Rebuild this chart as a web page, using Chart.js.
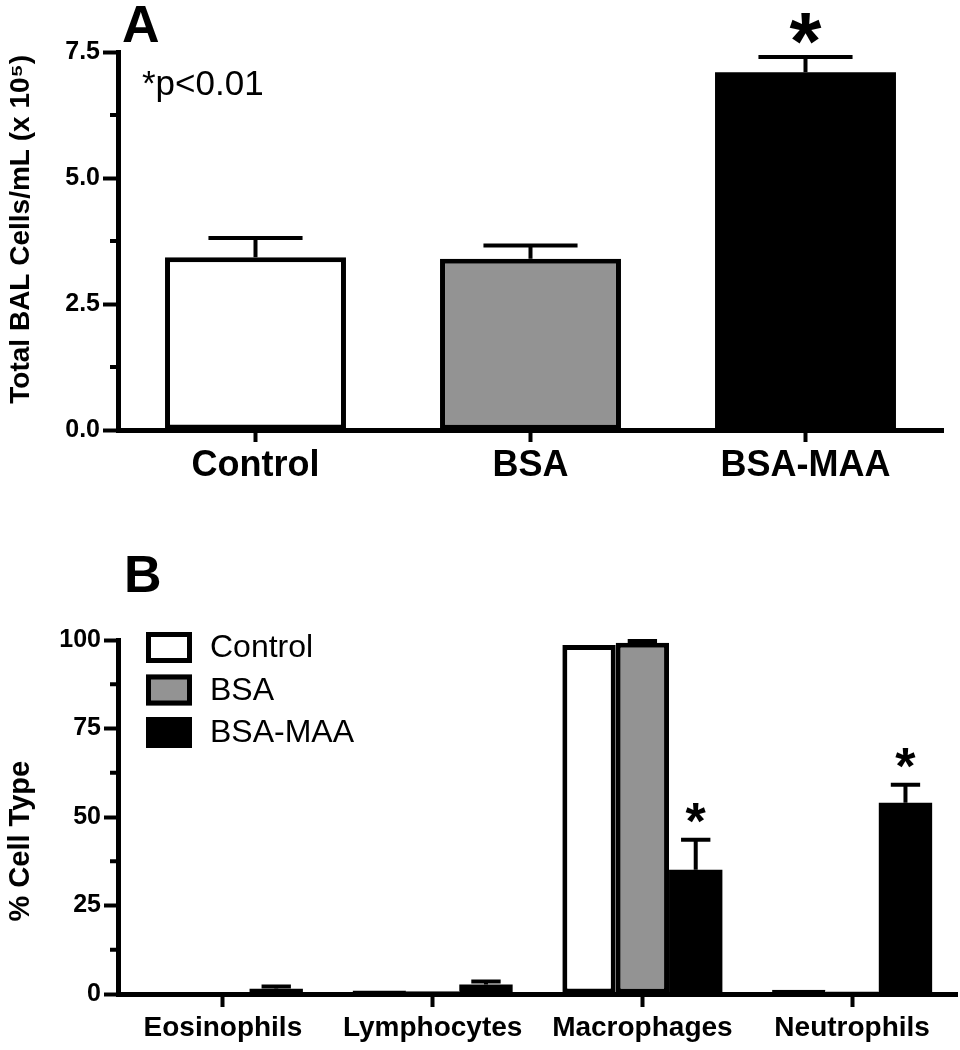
<!DOCTYPE html>
<html>
<head>
<meta charset="utf-8">
<script src="https://cdn.jsdelivr.net/npm/chart.js@4.4.1/dist/chart.umd.min.js"></script>
<style>
  html, body { margin: 0; padding: 0; background: #fff; }
  #wrap { position: relative; width: 960px; height: 1050px; }
  canvas { position: absolute; left: 0; }
  #chartA { top: 0; }
  #chartB { top: 540px; }
</style>
</head>
<body>
<div id="wrap">
  <canvas id="chartA" width="960" height="540"></canvas>
  <canvas id="chartB" width="960" height="510"></canvas>
</div>
<script>
// ---- panel A: total BAL cells ----
const groups = ['Control', 'BSA', 'BSA-MAA'];
const totalCells = [3.43, 3.40, 7.10];
const totalCellsSE = [0.38, 0.26, 0.30];
const totalCellsSig = [false, false, true];
const yTicksA = [0, 2.5, 5, 7.5];
const yMinorA = [1.25, 3.75, 6.25];

// ---- panel B: % cell type ----
const cellTypes = ['Eosinophils', 'Lymphocytes', 'Macrophages', 'Neutrophils'];
const pctControl = [0, 1.0, 98.6, 1.2];
const pctControlSE = [0, 0, 0, 0];
const pctBSA = [0, 0.8, 99.2, 0.7];
const pctBSASE = [0, 0, 0.5, 0];
const pctMAA = [1.5, 2.7, 35.1, 54.0];
const pctMAASE = [0.6, 0.8, 8.5, 5.1];
const pctMAASig = [false, false, true, true];
const yTicksB = [0, 25, 50, 75, 100];
const yMinorB = [12.5, 37.5, 62.5, 87.5];

const FONT = 'Arial, "Liberation Sans", Helvetica, sans-serif';
const fills = ['#ffffff', '#939393', '#000000'];
const borders = [5, 5, 0]; // black bars need no outline (avoids a seam)

Chart.defaults.font.family = FONT;
Chart.defaults.color = '#000';

// error bars + significance stars, drawn from the bar elements
const errorBars = {
  id: 'errorBars',
  afterDatasetsDraw(chart, args, o) {
    const ctx = chart.ctx;
    const ys = chart.scales.y;
    ctx.save();
    ctx.strokeStyle = '#000';
    ctx.fillStyle = '#000';
    ctx.lineWidth = o.lineWidth;
    chart.data.datasets.forEach((ds, i) => {
      chart.getDatasetMeta(i).data.forEach((bar, j) => {
        const err = ds.errors ? ds.errors[j] : 0;
        const top = ys.getPixelForValue(ds.data[j] + err);
        if (err > 0) {
          const half = bar.width * o.capRatio / 2;
          ctx.beginPath();
          ctx.moveTo(bar.x, bar.y); ctx.lineTo(bar.x, top);
          ctx.moveTo(bar.x - half, top); ctx.lineTo(bar.x + half, top);
          ctx.stroke();
        }
        if (ds.sig && ds.sig[j]) {
          ctx.font = `bold ${o.starSize}px ${FONT}`;
          ctx.textAlign = 'center';
          ctx.textBaseline = 'alphabetic';
          ctx.fillText('*', bar.x, top - o.starGap + o.starSize * 0.575);
        }
      });
    });
    ctx.restore();
  }
};

// short minor ticks on the y axis
const minorTicks = {
  id: 'minorTicks',
  afterDraw(chart, args, o) {
    const ctx = chart.ctx;
    const ys = chart.scales.y;
    const x0 = chart.chartArea.left;
    ctx.save();
    ctx.strokeStyle = '#000';
    ctx.lineWidth = o.width;
    o.values.forEach(v => {
      const py = ys.getPixelForValue(v);
      ctx.beginPath();
      ctx.moveTo(x0 - o.length, py); ctx.lineTo(x0, py);
      ctx.stroke();
    });
    ctx.restore();
  }
};

// panel letters and notes
const panelText = {
  id: 'panelText',
  afterDraw(chart, args, o) {
    const ctx = chart.ctx;
    ctx.save();
    ctx.fillStyle = '#000';
    ctx.textAlign = 'left';
    ctx.textBaseline = 'alphabetic';
    o.items.forEach(t => {
      ctx.font = `${t.weight} ${t.size}px ${FONT}`;
      ctx.fillText(t.text, t.x, t.y);
    });
    ctx.restore();
  }
};

// boxed legend inside the plot
const boxLegend = {
  id: 'boxLegend',
  afterDraw(chart, args, o) {
    if (!o.show) return;
    const ctx = chart.ctx;
    ctx.save();
    chart.data.datasets.forEach((ds, i) => {
      const y = o.top + i * o.step;
      ctx.fillStyle = ds.backgroundColor;
      ctx.fillRect(o.left, y, o.w, o.h);
      ctx.lineWidth = o.border;
      ctx.strokeStyle = '#000';
      ctx.strokeRect(o.left + o.border / 2, y + o.border / 2, o.w - o.border, o.h - o.border);
      ctx.fillStyle = '#000';
      ctx.font = `${o.size}px ${FONT}`;
      ctx.textAlign = 'left';
      ctx.textBaseline = 'middle';
      ctx.fillText(ds.label, o.left + o.w + o.gap, y + o.h / 2 + 1);
    });
    ctx.restore();
  }
};

function axisX(fontSize, tickLen, pad, height) {
  return {
    type: 'category',
    offset: true,
    grid: { offset: false, drawOnChartArea: false, drawTicks: true, tickLength: tickLen, tickWidth: 4, tickColor: '#000' },
    border: { display: true, color: '#000', width: 5 },
    ticks: { color: '#000', font: { size: fontSize, weight: 'bold' }, padding: pad, maxRotation: 0, autoSkip: false },
    afterFit: s => { s.height = height; }
  };
}

function axisY(max, ticks, fmt, title, titleSize, tickLen) {
  return {
    min: 0, max: max,
    afterBuildTicks: s => { s.ticks = ticks.map(v => ({ value: v })); },
    grid: { drawOnChartArea: false, drawTicks: true, tickLength: tickLen, tickWidth: 4, tickColor: '#000' },
    border: { display: true, color: '#000', width: 5 },
    ticks: { color: '#000', font: { size: 25, weight: 'bold' }, padding: 3, callback: fmt },
    title: { display: true, text: title, color: '#000', font: { size: titleSize, weight: 'bold' }, padding: { top: 4, bottom: 0 } },
    afterFit: s => { s.width = 118; }
  };
}

new Chart(document.getElementById('chartA'), {
  type: 'bar',
  data: {
    labels: groups,
    datasets: [{
      label: 'Total BAL cells',
      data: totalCells,
      errors: totalCellsSE,
      sig: totalCellsSig,
      backgroundColor: fills,
      borderColor: '#000',
      borderWidth: borders,
      borderSkipped: false,
      barPercentage: 0.658,
      categoryPercentage: 1
    }]
  },
  options: {
    responsive: false,
    animation: false,
    layout: { padding: { top: 52, right: 17, left: 0, bottom: 0 } },
    scales: {
      x: axisX(36, 12, 2, 110),
      y: axisY(7.5, yTicksA, v => Number(v).toFixed(1), '   Total BAL Cells/mL (x 10\u2075)', 28, 15)
    },
    plugins: {
      legend: { display: false },
      tooltip: { enabled: false },
      errorBars: { lineWidth: 4, capRatio: 0.52, starSize: 82, starGap: 35 },
      minorTicks: { values: yMinorA, length: 8, width: 4 },
      panelText: { items: [
        { text: 'A', x: 122, y: 42, size: 52, weight: 'bold' },
        { text: '*p<0.01', x: 142, y: 95, size: 35, weight: 'normal' }
      ] },
      boxLegend: { show: false }
    }
  },
  plugins: [errorBars, minorTicks, panelText, boxLegend]
});

new Chart(document.getElementById('chartB'), {
  type: 'bar',
  data: {
    labels: cellTypes,
    datasets: [
      { label: 'Control', data: pctControl, errors: pctControlSE, backgroundColor: fills[0], borderWidth: borders[0] },
      { label: 'BSA', data: pctBSA, errors: pctBSASE, backgroundColor: fills[1], borderWidth: borders[1] },
      { label: 'BSA-MAA', data: pctMAA, errors: pctMAASE, sig: pctMAASig, backgroundColor: fills[2], borderWidth: borders[2] }
    ].map(d => Object.assign(d, {
      borderColor: '#000', borderSkipped: false,
      barPercentage: 1, categoryPercentage: 0.763
    }))
  },
  options: {
    responsive: false,
    animation: false,
    layout: { padding: { top: 100, right: 3, left: 0, bottom: 0 } },
    scales: {
      x: axisX(28, 13, 4, 56),
      y: axisY(100, yTicksB, v => String(v), '% Cell Type      ', 29, 14)
    },
    plugins: {
      legend: { display: false },
      tooltip: { enabled: false },
      errorBars: { lineWidth: 4, capRatio: 0.55, starSize: 52, starGap: 31 },
      minorTicks: { values: yMinorB, length: 8, width: 4 },
      panelText: { items: [
        { text: 'B', x: 124, y: 52, size: 52, weight: 'bold' }
      ] },
      boxLegend: { show: true, left: 146, top: 92, step: 42.5, w: 46, h: 31, border: 5, gap: 18, size: 32 }
    }
  },
  plugins: [errorBars, minorTicks, panelText, boxLegend]
});
</script>
</body>
</html>
